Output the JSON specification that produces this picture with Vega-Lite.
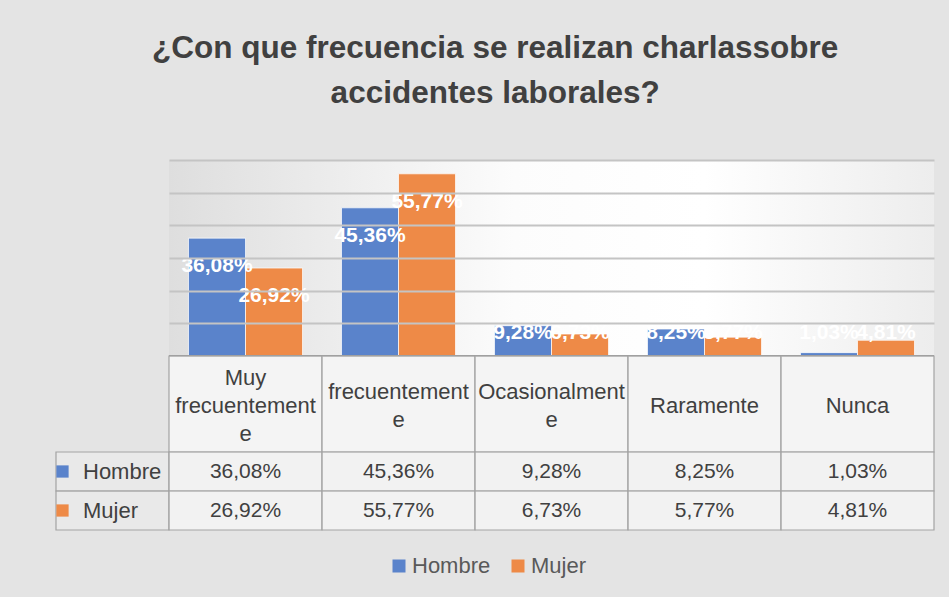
{
  "$schema": "https://vega.github.io/schema/vega-lite/v6.json",
  "background": "#e4e4e4",
  "padding": {"left": 55, "top": 32, "right": 16, "bottom": 20},
  "config": {
    "locale": {"number": {"decimal": ",", "thousands": ".", "grouping": [3], "currency": ["", " €"]}},
    "view": {"stroke": null},
    "font": "Liberation Sans"
  },
  "title": {
    "text": ["¿Con que frecuencia se realizan charlassobre", "accidentes laborales?"],
    "fontSize": 31.5,
    "font": "Liberation Sans",
    "fontWeight": "bold",
    "color": "#404040",
    "lineHeight": 45,
    "anchor": "middle",
    "offset": 51
  },
  "datasets": {
    "respuestas": [
      {"categoria": "Muy frecuentemente", "sexo": "Hombre", "porcentaje": 0.3608},
      {"categoria": "Muy frecuentemente", "sexo": "Mujer", "porcentaje": 0.2692},
      {"categoria": "frecuentemente", "sexo": "Hombre", "porcentaje": 0.4536},
      {"categoria": "frecuentemente", "sexo": "Mujer", "porcentaje": 0.5577},
      {"categoria": "Ocasionalmente", "sexo": "Hombre", "porcentaje": 0.0928},
      {"categoria": "Ocasionalmente", "sexo": "Mujer", "porcentaje": 0.0673},
      {"categoria": "Raramente", "sexo": "Hombre", "porcentaje": 0.0825},
      {"categoria": "Raramente", "sexo": "Mujer", "porcentaje": 0.0577},
      {"categoria": "Nunca", "sexo": "Hombre", "porcentaje": 0.0103},
      {"categoria": "Nunca", "sexo": "Mujer", "porcentaje": 0.0481}
    ],
    "encabezados": [
      {"categoria": "Muy frecuentemente", "etiqueta": "Muy|frecuentement|e"},
      {"categoria": "frecuentemente", "etiqueta": "frecuentement|e"},
      {"categoria": "Ocasionalmente", "etiqueta": "Ocasionalment|e"},
      {"categoria": "Raramente", "etiqueta": "Raramente"},
      {"categoria": "Nunca", "etiqueta": "Nunca"}
    ],
    "sexos": [{"sexo": "Hombre"}, {"sexo": "Mujer"}],
    "vacio": [{}]
  },
  "columns": 2,
  "spacing": 0,
  "align": "each",
  "bounds": "flush",
  "concat": [
    {
      "width": 113, "height": 196,
      "data": {"name": "vacio"},
      "mark": {"type": "text"},
      "encoding": {"text": {"value": ""}}
    },
    {
      "width": 765, "height": 196,
      "layer": [
        {
          "data": {"name": "vacio"},
          "mark": {"type": "rect", "fill": {"gradient": "linear", "x1": 0, "y1": 0.5, "x2": 1, "y2": 0.5, "stops": [{"offset": 0, "color": "#dedede"}, {"offset": 0.45, "color": "#fcfcfc"}, {"offset": 0.7, "color": "#ffffff"}, {"offset": 1, "color": "#ededed"}]}},
          "encoding": {}
        },
        {
          "data": {"name": "respuestas"},
          "mark": {"type": "bar", "stroke": "#ffffff", "strokeWidth": 1, "strokeOpacity": 0.7},
          "encoding": {
            "x": {"field": "categoria", "type": "nominal", "sort": ["Muy frecuentemente", "frecuentemente", "Ocasionalmente", "Raramente", "Nunca"], "scale": {"paddingInner": 0.255, "paddingOuter": 0.1275}, "axis": null},
            "xOffset": {"field": "sexo", "type": "nominal", "sort": ["Hombre", "Mujer"], "scale": {"paddingInner": 0, "paddingOuter": 0}},
            "y": {"field": "porcentaje", "type": "quantitative", "scale": {"domain": [0, 0.6], "nice": false},
              "axis": {"title": null, "labels": false, "ticks": false, "domain": false, "grid": true, "values": [0.1, 0.2, 0.3, 0.4, 0.5, 0.6], "tickCount": 20, "labelOverlap": false, "gridColor": "#c4c4c4", "gridWidth": 1.8, "zindex": 1}},
            "color": {"field": "sexo", "type": "nominal", "sort": ["Hombre", "Mujer"],
              "scale": {"domain": ["Hombre", "Mujer"], "range": ["#5A83CB", "#EE8A47"]},
              "legend": {"orient": "none", "legendX": 332, "legendY": 395, "direction": "horizontal", "title": null, "symbolType": "square", "symbolSize": 169, "symbolStrokeWidth": 0, "labelFontSize": 22, "labelColor": "#595959", "labelOffset": 2, "columnPadding": 16, "labelFont": "Liberation Sans"}}
          }
        },
        {
          "data": {"name": "respuestas"},
          "mark": {"type": "rule", "color": "#9c9c9c", "strokeWidth": 2},
          "encoding": {"y": {"datum": 0}}
        },
        {
          "data": {"name": "respuestas"},
          "transform": [{"filter": "datum.porcentaje > 0.2"}],
          "mark": {"type": "text", "color": "#ffffff", "fontWeight": "bold", "fontSize": 21, "baseline": "middle", "dy": 28},
          "encoding": {
            "x": {"field": "categoria", "type": "nominal", "sort": ["Muy frecuentemente", "frecuentemente", "Ocasionalmente", "Raramente", "Nunca"]},
            "xOffset": {"field": "sexo", "type": "nominal", "sort": ["Hombre", "Mujer"]},
            "y": {"field": "porcentaje", "type": "quantitative"},
            "text": {"field": "porcentaje", "type": "quantitative", "format": ".2%"}
          }
        },
        {
          "data": {"name": "respuestas"},
          "transform": [{"filter": "datum.porcentaje <= 0.2"}],
          "mark": {"type": "text", "color": "#ffffff", "fontWeight": "bold", "fontSize": 21, "baseline": "middle"},
          "encoding": {
            "x": {"field": "categoria", "type": "nominal", "sort": ["Muy frecuentemente", "frecuentemente", "Ocasionalmente", "Raramente", "Nunca"]},
            "xOffset": {"field": "sexo", "type": "nominal", "sort": ["Hombre", "Mujer"]},
            "y": {"datum": 0.07, "type": "quantitative"},
            "text": {"field": "porcentaje", "type": "quantitative", "format": ".2%"}
          }
        }
      ]
    },
    {
      "width": 113, "height": 96,
      "data": {"name": "vacio"},
      "mark": {"type": "text"},
      "encoding": {"text": {"value": ""}}
    },
    {
      "width": 765, "height": 96,
      "data": {"name": "encabezados"},
      "encoding": {
        "x": {"field": "categoria", "type": "nominal", "sort": ["Muy frecuentemente", "frecuentemente", "Ocasionalmente", "Raramente", "Nunca"], "scale": {"paddingInner": 0, "paddingOuter": 0}, "axis": null}
      },
      "layer": [
        {"mark": {"type": "rect", "fill": "#ffffff", "fillOpacity": 0.6, "stroke": "#a3a3a3", "strokeWidth": 1.2}},
        {"mark": {"type": "text", "fontSize": 22, "color": "#404040", "lineBreak": "|", "lineHeight": 28, "baseline": "middle",
                  "dy": {"expr": "2 - (length(split(datum.etiqueta, '|')) - 1) * 14"}},
         "encoding": {"text": {"field": "etiqueta", "type": "nominal"}}}
      ]
    },
    {
      "width": 113, "height": 78,
      "data": {"name": "sexos"},
      "encoding": {
        "y": {"field": "sexo", "type": "nominal", "sort": ["Hombre", "Mujer"], "scale": {"paddingInner": 0, "paddingOuter": 0}, "axis": null}
      },
      "layer": [
        {"mark": {"type": "rect", "fill": "#ffffff", "fillOpacity": 0.2, "stroke": "#a3a3a3", "strokeWidth": 1.2}},
        {"mark": {"type": "point", "shape": "square", "filled": true, "size": 150, "opacity": 1, "xOffset": -50},
         "encoding": {"color": {"condition": {"test": "datum.sexo === 'Hombre'", "value": "#5A83CB"}, "value": "#EE8A47"}}},
        {"mark": {"type": "text", "fontSize": 22, "color": "#404040", "align": "left", "baseline": "middle", "dx": -29.5},
         "encoding": {"text": {"field": "sexo", "type": "nominal"}}}
      ]
    },
    {
      "width": 765, "height": 78,
      "data": {"name": "respuestas"},
      "encoding": {
        "x": {"field": "categoria", "type": "nominal", "sort": ["Muy frecuentemente", "frecuentemente", "Ocasionalmente", "Raramente", "Nunca"], "scale": {"paddingInner": 0, "paddingOuter": 0}, "axis": null},
        "y": {"field": "sexo", "type": "nominal", "sort": ["Hombre", "Mujer"], "scale": {"paddingInner": 0, "paddingOuter": 0}, "axis": null}
      },
      "layer": [
        {"mark": {"type": "rect", "fill": "#ffffff", "fillOpacity": 0.5, "stroke": "#a3a3a3", "strokeWidth": 1.2}},
        {"mark": {"type": "text", "fontSize": 21, "color": "#404040", "baseline": "middle"},
         "encoding": {"text": {"field": "porcentaje", "type": "quantitative", "format": ".2%"}}}
      ]
    }
  ]
}
